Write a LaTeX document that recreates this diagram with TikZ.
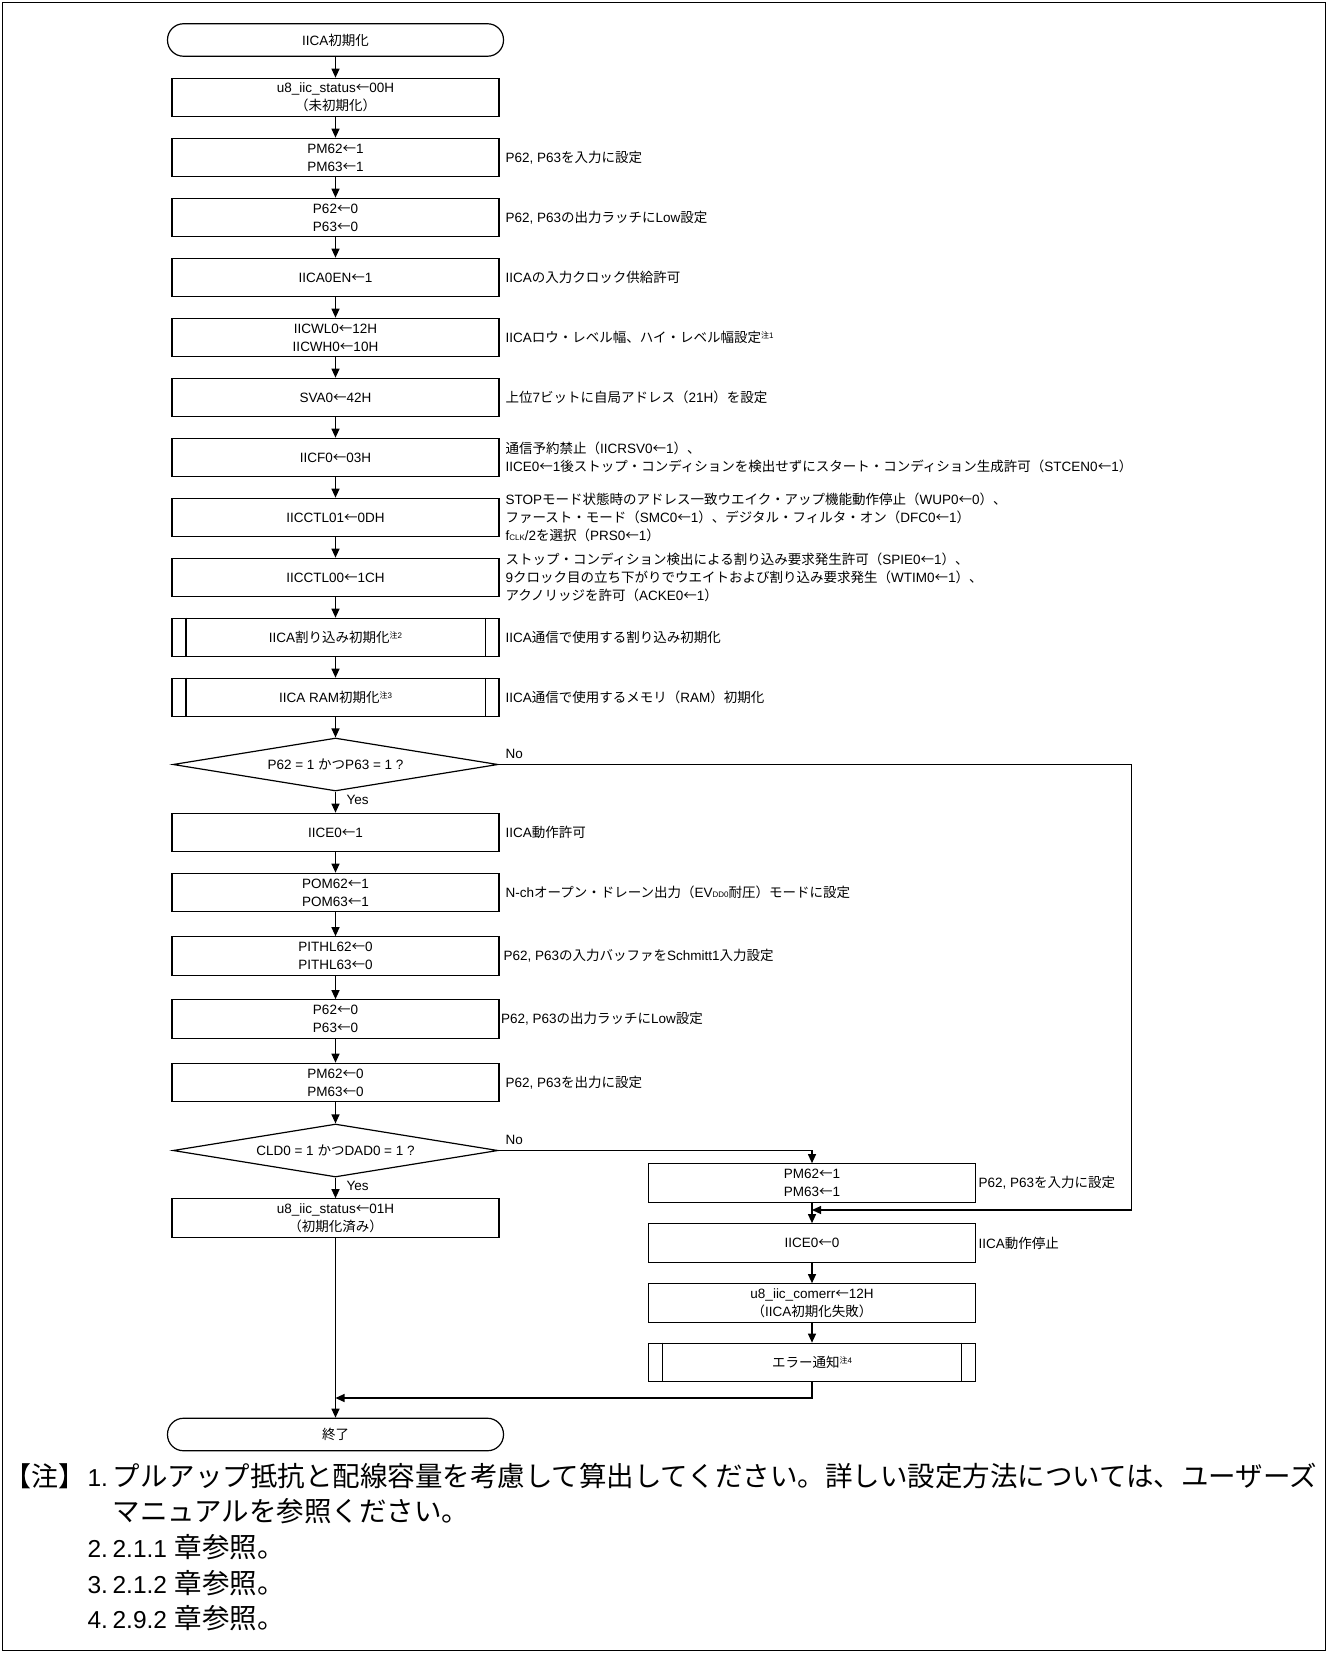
\documentclass[tikz,border=0pt]{standalone}
\usepackage{fontspec}
\setmainfont{Liberation Sans}
\newfontfamily\jpfont{Noto Sans CJK JP}
\newfontfamily\lafont{Liberation Sans}
\usetikzlibrary{arrows.meta,shapes.geometric,calc}
\XeTeXinterchartokenstate=1
\newXeTeXintercharclass\cjkcls
\newcount\cjkcnt
\cjkcnt="2E80
\loop\ifnum\cjkcnt<"A000
  \XeTeXcharclass\cjkcnt=\cjkcls
  \advance\cjkcnt by 1
\repeat
\cjkcnt="FF00
\loop\ifnum\cjkcnt<"FFF0
  \XeTeXcharclass\cjkcnt=\cjkcls
  \advance\cjkcnt by 1
\repeat
\XeTeXcharclass"2190=\cjkcls
\XeTeXinterchartoks 0 \cjkcls = {\jpfont}
\XeTeXinterchartoks 4095 \cjkcls = {\jpfont}
\XeTeXinterchartoks \cjkcls 0 = {\lafont}
\XeTeXinterchartoks \cjkcls 4095 = {\lafont}
\newcommand\bxf{\fontsize{13.5}{18}\selectfont}
\newcommand\ntf{\fontsize{27.5}{35}\selectfont}
\newcommand\ntn{\fontsize{24.5}{35}\selectfont}
\newcommand\ntb{\fontsize{27}{35}\selectfont}
\newcommand\chu[1]{\raisebox{4pt}{\fontsize{8}{8}\selectfont 注#1}}
\newcommand\smalltxt[1]{{\fontsize{8}{8}\selectfont #1}}
\tikzset{
 proc/.style={draw, rectangle, minimum width=327pt, minimum height=38.5pt, inner sep=0pt, align=center, font=\bxf},
 term/.style={draw, rectangle, rounded corners=16pt, minimum width=336pt, minimum height=32.5pt, inner sep=0pt, font=\bxf},
 deci/.style={draw, diamond, aspect=6, minimum width=325pt, minimum height=53pt, inner sep=0pt, font=\bxf},
 ann/.style={anchor=west, align=left, inner sep=0pt, font=\bxf},
 lbl/.style={anchor=west, inner sep=0pt, font=\bxf},
 notetxt/.style={anchor=base west, inner sep=0pt, font=\ntf},
 notenum/.style={anchor=base west, inner sep=0pt, font=\ntn},
 arr/.style={-{Triangle[length=9pt,width=8pt]}},
}
\begin{document}
\begin{tikzpicture}[x=1pt,y=-1pt,line width=1.2pt]
\useasboundingbox (0,0) rectangle (1328,1653);
\draw[line width=1.5pt] (2.5,2.5) rectangle (1325.5,1650.5);
% main column
\node[term] (st) at (335.5,40) {IICA初期化};
\node[proc] (b0) at (335.5,97.5) {u8\_iic\_status←00H\\（未初期化）};
\node[proc] (b1) at (335.5,157.5) {PM62←1\\PM63←1};
\node[proc] (b2) at (335.5,217.5) {P62←0\\P63←0};
\node[proc] (b3) at (335.5,277.5) {IICA0EN←1};
\node[proc] (b4) at (335.5,337.5) {IICWL0←12H\\IICWH0←10H};
\node[proc] (b5) at (335.5,397.5) {SVA0←42H};
\node[proc] (b6) at (335.5,457.5) {IICF0←03H};
\node[proc] (b7) at (335.5,517.5) {IICCTL01←0DH};
\node[proc] (b8) at (335.5,577.5) {IICCTL00←1CH};
\node[proc] (b9) at (335.5,637.5) {IICA割り込み初期化\chu{2}};
\node[proc] (b10) at (335.5,697.5) {IICA RAM初期化\chu{3}};
\node[deci] (d1) at (335.5,764.5) {P62 = 1 かつP63 = 1 ?};
\node[proc] (c0) at (335.5,832.5) {IICE0←1};
\node[proc] (c1) at (335.5,892.5) {POM62←1\\POM63←1};
\node[proc] (c2) at (335.5,956) {PITHL62←0\\PITHL63←0};
\node[proc] (c3) at (335.5,1019) {P62←0\\P63←0};
\node[proc] (c4) at (335.5,1082.5) {PM62←0\\PM63←0};
\node[deci] (d2) at (335.5,1150.5) {CLD0 = 1 かつDAD0 = 1 ?};
\node[proc] (e0) at (335.5,1218) {u8\_iic\_status←01H\\（初期化済み）};
\node[term] (en) at (335.5,1434.5) {終了};
% right column
\node[proc] (r0) at (812,1183) {PM62←1\\PM63←1};
\node[proc] (r1) at (812,1243) {IICE0←0};
\node[proc] (r2) at (812,1303) {u8\_iic\_comerr←12H\\（IICA初期化失敗）};
\node[proc] (r3) at (812,1362.5) {エラー通知\chu{4}};
% subroutine inner lines
\foreach \n in {b9,b10,r3}
  \draw ([xshift=14.5pt]\n.north west) -- ([xshift=14.5pt]\n.south west)
        ([xshift=-14.5pt]\n.north east) -- ([xshift=-14.5pt]\n.south east);
% annotations
\node[ann] (a1) at (505,157.5) {P62, P63を入力に設定};
\node[ann] (a2) at (505,217.5) {P62, P63の出力ラッチにLow設定};
\node[ann] (a3) at (505,277.5) {IICAの入力クロック供給許可};
\node[ann] (a4) at (505,337.5) {IICAロウ・レベル幅、ハイ・レベル幅設定\chu{1}};
\node[ann] (a5) at (505,397.5) {上位7ビットに自局アドレス（21H）を設定};
\node[ann] (a6) at (505,457.5) {通信予約禁止（IICRSV0←1）、\\IICE0←1後ストップ・コンディションを検出せずにスタート・コンディション生成許可（STCEN0←1）};
\node[ann] (a7) at (505,517.5) {STOPモード状態時のアドレス一致ウエイク・アップ機能動作停止（WUP0←0）、\\ファースト・モード（SMC0←1）、デジタル・フィルタ・オン（DFC0←1）\\f\smalltxt{CLK}/2を選択（PRS0←1）};
\node[ann] (a8) at (505,577.5) {ストップ・コンディション検出による割り込み要求発生許可（SPIE0←1）、\\9クロック目の立ち下がりでウエイトおよび割り込み要求発生（WTIM0←1）、\\アクノリッジを許可（ACKE0←1）};
\node[ann] (a9) at (505,637.5) {IICA通信で使用する割り込み初期化};
\node[ann] (a10) at (505,697.5) {IICA通信で使用するメモリ（RAM）初期化};
\node[ann] (a11) at (505,832.5) {IICA動作許可};
\node[ann] (a12) at (505,892.5) {N-chオープン・ドレーン出力（EV\smalltxt{DD0}耐圧）モードに設定};
\node[ann] (a13) at (503,956) {P62, P63の入力バッファをSchmitt1入力設定};
\node[ann] (a14) at (500.5,1019) {P62, P63の出力ラッチにLow設定};
\node[ann] (a15) at (505,1082.5) {P62, P63を出力に設定};
\node[ann] (a16) at (978,1183) {P62, P63を入力に設定};
\node[ann] (a17) at (978,1243) {IICA動作停止};
% connectors main
\foreach \a/\b in {st/b0,b0/b1,b1/b2,b2/b3,b3/b4,b4/b5,b5/b6,b6/b7,b7/b8,b8/b9,b9/b10,b10/d1,
                   d1/c0,c0/c1,c1/c2,c2/c3,c3/c4,c4/d2,d2/e0,e0/en,r0/r1,r1/r2,r2/r3}
  \draw[arr] (\a) -- (\b);
\node[lbl] (y1) at (346,799.5) {Yes};
\node[lbl] (y2) at (346,1186) {Yes};
\node[lbl] (n1) at (505,753.5) {No};
\node[lbl] (n2) at (505,1140) {No};
\coordinate (rx) at (1131.7,1210);
\coordinate (m1) at (812,1210);
\draw[arr] (d1.east) -| (rx) -- (m1);
\draw[arr] (d2.east) -| (r0.north);
\coordinate (jn) at (335.5,1398);
\draw[arr] (r3.south) |- (jn);
% notes
\node[notetxt, font=\ntb] (nt0) at (4,1486.5) {【注】};
\node[notenum] (nt1) at (87,1486.5) {1.};
\node[notetxt] (tx1) at (112,1486.5) {プルアップ抵抗と配線容量を考慮して算出してください。詳しい設定方法については、ユーザーズ};
\node[notetxt] (tx1b) at (112,1521.5) {マニュアルを参照ください。};
\node[notenum] (nt2) at (87,1557.5) {2.};
\node[notetxt] (tx2) at (112,1557.5) {{\ntn 2.1.1} 章参照。};
\node[notenum] (nt3) at (87,1593.5) {3.};
\node[notetxt] (tx3) at (112,1593.5) {{\ntn 2.1.2} 章参照。};
\node[notenum] (nt4) at (87,1628.5) {4.};
\node[notetxt] (tx4) at (112,1628.5) {{\ntn 2.9.2} 章参照。};
\end{tikzpicture}
\end{document}
